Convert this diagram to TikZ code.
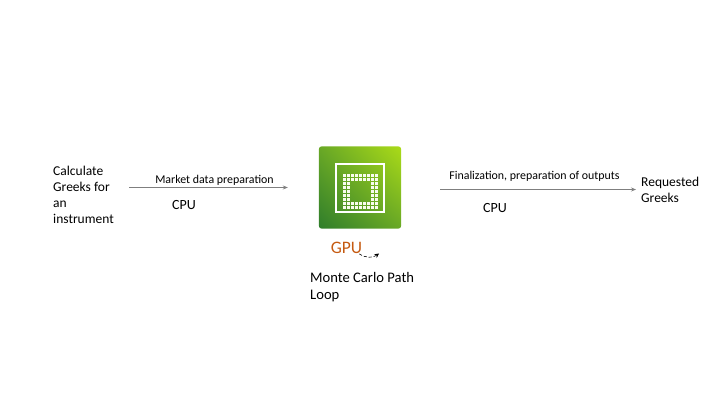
\documentclass[tikz,border=0pt]{standalone}
\usepackage{fontspec}
\setmainfont{Carlito}
\usepackage{xcolor}
\usetikzlibrary{arrows.meta,shadings}
\definecolor{gpuorange}{HTML}{C55A11}
\definecolor{chipdark}{HTML}{2F7D2B}
\definecolor{chiplime}{HTML}{ABDB18}
\definecolor{chipmid}{HTML}{69A826}
\definecolor{flowgrey}{HTML}{7F7F7F}
\tikzset{
  labeltext/.style={align=left,inner sep=0pt,text=black,font=\fontsize{13.5}{16.2}\selectfont},
  smalltext/.style={inner sep=0pt,text=black,font=\fontsize{11.9}{14}\selectfont},
  cputext/.style={inner sep=0pt,text=black,font=\fontsize{14}{16}\selectfont},
  flowarrow/.style={-{Stealth[length=5pt,width=4pt]},draw=flowgrey,line width=0.7pt},
}
\begin{document}
\begin{tikzpicture}[x=1pt,y=-1pt,>=Stealth]
\useasboundingbox (0,0) rectangle (720,405);
\node[labeltext,anchor=west] (request) at (53,195) {Calculate\\Greeks for\\an\\instrument};
\node[labeltext,anchor=west] (greeks) at (641,189.5) {Requested\\Greeks};
\node[minimum size=82pt,inner sep=0pt] (chip) at (360,187.5) {};
\coordinate (prepstart) at (129,187.5);
\coordinate (finalstart) at (440,189.5);
% chip icon
\begin{scope}
\clip[rounded corners=3pt] (chip.south west) rectangle (chip.north east);
\shade[lower left=chipdark,upper left=chipmid,lower right=chipmid,upper right=chiplime] (chip.south west) rectangle (chip.north east);
\end{scope}
\draw[white,line width=2pt] (336,164) rectangle (384,212);
\foreach \i in {0,...,8}{
  \foreach \j in {0,...,8}{
    \pgfmathtruncatemacro{\ringdist}{max(abs(\i-4),abs(\j-4))}
    \ifnum\ringdist>2
      \fill[white!92!chiplime] ({343+4*\i},{174+4*\j}) rectangle ++(2.9,2.9);
    \fi
  }
}
\node[font=\fontsize{17.5}{20}\selectfont,text=gpuorange,inner sep=0pt] (gpu) at (346.5,248) {GPU};
\coordinate (gpuend) at (379,253.5);
\draw[densely dashed,-{Stealth[length=4.5pt,width=4.5pt]},line width=0.6pt] (gpu.south east) ++(-3,0) to[bend right=35] (gpuend);
\node[labeltext,font=\fontsize{14.6}{17}\selectfont,anchor=north west] (path) at (310,272) {Monte Carlo Path\\Loop};
\node[smalltext] (preplabel) at (214.5,180) {Market data preparation};
\node[smalltext] (finallabel) at (534.5,176.5) {Finalization, preparation of outputs};
\node[cputext] (cpuleft) at (184,205) {CPU};
\node[cputext] (cpuright) at (495,208.5) {CPU};
\draw[flowarrow,shorten >=31pt] (prepstart) -- (chip.west);
\draw[flowarrow,shorten >=5pt] (finalstart) -- (greeks.west);
\end{tikzpicture}
\end{document}
